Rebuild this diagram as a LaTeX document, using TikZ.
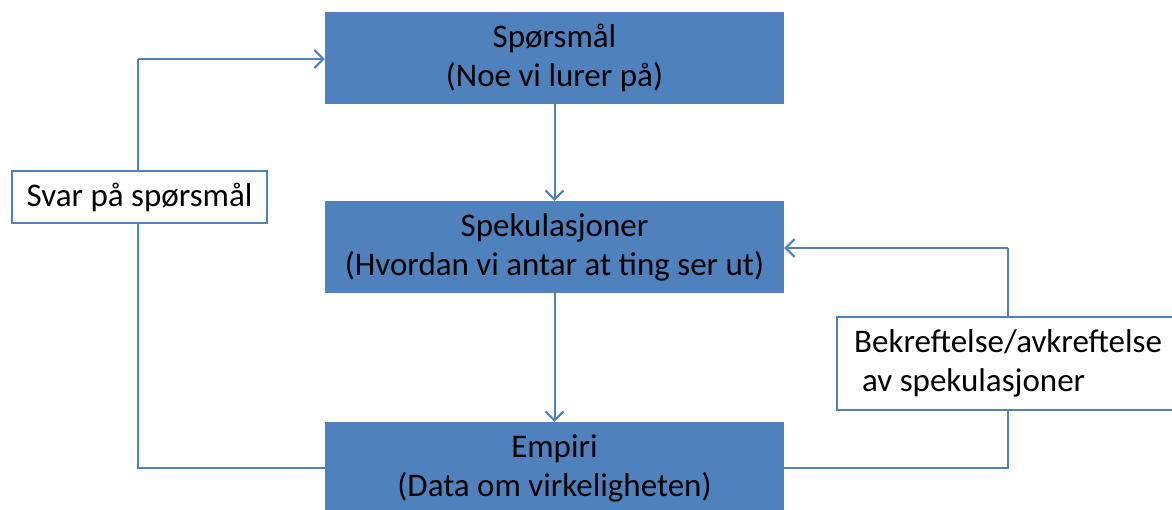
\documentclass[tikz,border=0pt]{standalone}
\usepackage{fontspec}
\setmainfont{Carlito}
\usetikzlibrary{arrows.meta}
\definecolor{boxblue}{RGB}{79,129,189}
\definecolor{linkblue}{RGB}{79,129,189}
\tikzset{
  stage/.style={draw=none, fill=boxblue, minimum width=459pt, minimum height=92pt,
    inner sep=0pt, align=center, font=\fontsize{33}{39}\selectfont},
  note/.style={draw=linkblue, line width=2pt, fill=white, inner sep=0pt,
    font=\fontsize{33}{39}\selectfont},
  link/.style={draw=linkblue, line width=2pt,
    -{Straight Barb[length=9pt, width=18pt, line width=2pt]}},
  plain/.style={draw=linkblue, line width=2pt}
}
\begin{document}
\begin{tikzpicture}[x=1pt, y=-1pt]
  \clip (0,0) rectangle (1172,509);
  \fill[white] (0,0) rectangle (1172,509);

  % main stages
  \node[stage] (q) at (554.5,58) {Spørsmål\\(Noe vi lurer på)};
  \node[stage] (s) at (554.5,247) {Spekulasjoner\\(Hvordan vi antar at ting ser ut)};
  \node[stage] (e) at (554.5,468) {Empiri\\(Data om virkeligheten)};

  % vertical flow
  \draw[link] (q.south) -- (s.north);
  \draw[link] (s.south) -- (e.north);

  % left feedback loop
  \coordinate (lb) at (138,468);
  \coordinate (lt) at (138,59);
  \draw[plain] (e.west) -- (lb) -- (lt);
  \draw[link] (lt) -- (q.west |- lt);
  \node[note, minimum width=255pt, minimum height=52pt] (svar) at (139.5,197) {Svar på spørsmål};

  % right feedback loop
  \coordinate (rb) at (1008,468);
  \coordinate (rt) at (1008,248);
  \draw[plain] (e.east) -- (rb) -- (rt);
  \draw[link] (rt) -- (s.east |- rt);
  \node[note, minimum width=342pt, minimum height=93pt, align=left] (bekr) at (1008,363.5)
    {Bekreftelse/avkreftelse\\\hspace*{8pt}av spekulasjoner};
\end{tikzpicture}
\end{document}
